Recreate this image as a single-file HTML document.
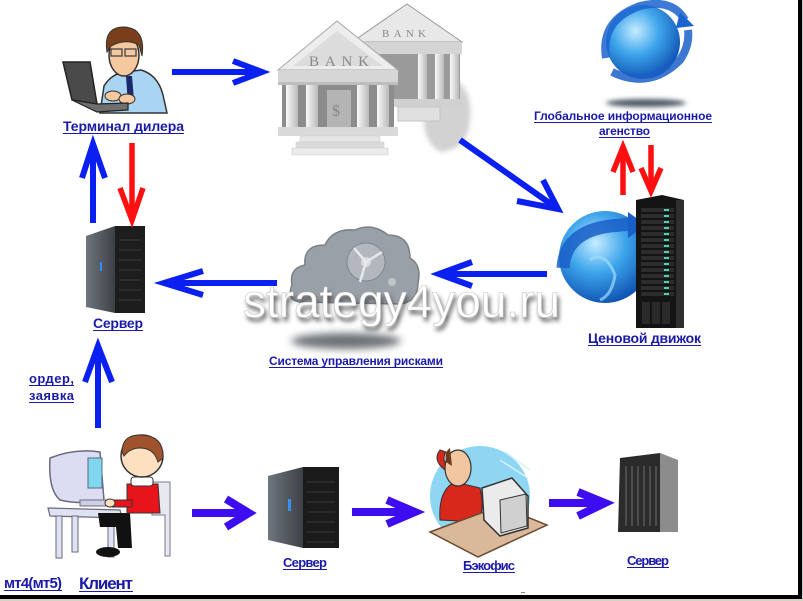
<!DOCTYPE html>
<html><head><meta charset="utf-8">
<style>
html,body{margin:0;padding:0;background:#fff;width:803px;height:601px;overflow:hidden}
svg{display:block}
.l{font-family:"Liberation Sans",Arial,sans-serif;font-weight:bold;fill:#1a1aa8}
</style></head><body>
<svg width="803" height="601" viewBox="0 0 803 601" xmlns="http://www.w3.org/2000/svg">
<defs>
<radialGradient id="gl" cx="0.4" cy="0.35" r="0.7">
<stop offset="0" stop-color="#c6ecff"/><stop offset="0.45" stop-color="#3fa6ec"/><stop offset="1" stop-color="#0a4cae"/>
</radialGradient>
<linearGradient id="col" x1="0" x2="1"><stop offset="0" stop-color="#fafafa"/><stop offset="1" stop-color="#b9b9b9"/></linearGradient>
<linearGradient id="side" x1="0" x2="1"><stop offset="0" stop-color="#70767e"/><stop offset="1" stop-color="#3c4046"/></linearGradient>
<filter id="bl" x="-20%" y="-50%" width="140%" height="200%"><feGaussianBlur stdDeviation="2.5"/></filter>
<filter id="bl2" x="-20%" y="-50%" width="140%" height="200%"><feGaussianBlur stdDeviation="4"/></filter>
</defs>
<rect width="803" height="601" fill="#fff"/>

<!-- ===== Dealer ===== -->
<path d="M100,113 L104,86 Q112,73 126,72 L141,70 Q158,75 163,95 L167,113 Z" fill="#a9d5f2" stroke="#333" stroke-width="1.5"/>
<polygon points="126,76 132,76 134,100 128,105" fill="#1b2a6b"/>
<ellipse cx="124" cy="55" rx="15" ry="21" fill="#f6c8a0" stroke="#333" stroke-width="1.5"/>
<path d="M107,52 Q103,27 124,27 Q146,28 142,56 L139,45 Q126,38 111,46 Z" fill="#7a3f1a" stroke="#333" stroke-width="1"/>
<rect x="111" y="49" width="11" height="7" fill="none" stroke="#444" stroke-width="1.3"/>
<rect x="125" y="49" width="11" height="7" fill="none" stroke="#444" stroke-width="1.3"/>
<ellipse cx="113" cy="96" rx="8" ry="5" fill="#f6c8a0" stroke="#333"/>
<ellipse cx="127" cy="99" rx="8" ry="5" fill="#f6c8a0" stroke="#333"/>
<polygon points="63,62 90,62 97,104 72,100" fill="#4a4a4a" stroke="#222" stroke-width="1.5"/>
<polygon points="72,100 97,104 128,103 128,110 97,112" fill="#6f6f6f" stroke="#222" stroke-width="1.2"/>

<!-- ===== Banks ===== -->
<path d="M435,70 Q475,80 470,120 Q468,150 440,152 Q420,140 425,110 Z" fill="#d2d2d2" filter="url(#bl)"/>
<rect x="355" y="54" width="105" height="46" fill="#9a9a9a"/>
<polygon points="352,42 407,4 462,42" fill="#e8e8e8" stroke="#9a9a9a"/>
<text x="382" y="37" font-family="Liberation Serif,serif" font-size="11" fill="#8a8a8a" textLength="44">BANK</text>
<rect x="350" y="42" width="112" height="12" fill="#d4d4d4"/>
<rect x="418" y="54" width="9" height="45" fill="url(#col)"/>
<rect x="435" y="54" width="9" height="45" fill="url(#col)"/>
<rect x="450" y="54" width="9" height="45" fill="url(#col)"/>
<rect x="350" y="99" width="112" height="8" fill="#d0d0d0"/>
<rect x="398" y="107" width="42" height="14" fill="#e0e0e0" stroke="#c4c4c4"/>

<rect x="282" y="84" width="112" height="43" fill="#8c8c8c"/>
<polygon points="278,70 337,21 398,70" fill="#ededed" stroke="#a8a8a8"/>
<polygon points="293,66 337,31 383,66" fill="#dcdcdc"/>
<text x="309" y="66" font-family="Liberation Serif,serif" font-size="15" fill="#888" textLength="60">BANK</text>
<rect x="278" y="70" width="120" height="14" fill="#d6d6d6"/>
<rect x="278" y="82" width="120" height="3" fill="#bdbdbd"/>
<rect x="286" y="85" width="12" height="42" fill="url(#col)"/>
<rect x="306" y="85" width="12" height="42" fill="url(#col)"/>
<rect x="357" y="85" width="12" height="42" fill="url(#col)"/>
<rect x="377" y="85" width="12" height="42" fill="url(#col)"/>
<rect x="327" y="90" width="24" height="37" fill="#b4b4b4"/>
<text x="332" y="116" font-family="Liberation Serif,serif" font-size="16" fill="#888">$</text>
<rect x="278" y="127" width="120" height="9" fill="#d9d9d9"/>
<rect x="300" y="136" width="80" height="6" fill="#e6e6e6" stroke="#c9c9c9" stroke-width="0.5"/>
<rect x="296" y="142" width="88" height="6" fill="#dadada" stroke="#c9c9c9" stroke-width="0.5"/>
<rect x="292" y="148" width="96" height="7" fill="#ebebeb" stroke="#c9c9c9" stroke-width="0.5"/>

<!-- ===== Top globe ===== -->
<ellipse cx="646" cy="103" rx="40" ry="4" fill="#4f5a66" filter="url(#bl)"/>
<circle cx="643" cy="42" r="37" fill="url(#gl)"/>
<path d="M606,58 Q600,20 640,6 Q672,-2 685,20" fill="none" stroke="#1b63cf" stroke-width="8" opacity="0.85"/>
<path d="M612,72 Q650,90 680,60 Q690,45 688,30" fill="none" stroke="#1a5fc8" stroke-width="8" opacity="0.85"/>
<polygon points="680,12 694,26 676,28" fill="#1b63cf"/>

<!-- ===== Price engine ===== -->
<circle cx="605" cy="257" r="46" fill="url(#gl)"/>
<path d="M563,268 Q565,232 610,226 L632,224" fill="none" stroke="#1a5fc8" stroke-width="13" opacity="0.85"/>
<polygon points="628,212 646,225 628,238" fill="#1a5fc8"/>
<path d="M590,260 Q605,250 615,275 Q612,295 600,300" fill="none" stroke="#9fdcff" stroke-width="3" opacity="0.7"/>
<polygon points="636,200 662,195 684,200 684,328 636,328" fill="#141414"/>
<rect x="676" y="200" width="8" height="128" fill="#2e2e2e"/>
<g fill="#2c2c2c">
<rect x="641" y="208" width="33" height="4"/><rect x="641" y="214" width="33" height="4"/><rect x="641" y="220" width="33" height="4"/><rect x="641" y="226" width="33" height="4"/><rect x="641" y="232" width="33" height="4"/><rect x="641" y="238" width="33" height="4"/><rect x="641" y="244" width="33" height="4"/><rect x="641" y="250" width="33" height="4"/><rect x="641" y="256" width="33" height="4"/><rect x="641" y="262" width="33" height="4"/><rect x="641" y="268" width="33" height="4"/><rect x="641" y="274" width="33" height="4"/><rect x="641" y="280" width="33" height="4"/><rect x="641" y="286" width="33" height="4"/><rect x="641" y="292" width="33" height="4"/>
</g>
<g fill="#4fd0b0">
<rect x="664" y="209" width="5" height="2"/><rect x="664" y="215" width="5" height="2"/><rect x="664" y="221" width="5" height="2"/><rect x="664" y="227" width="5" height="2"/><rect x="664" y="233" width="5" height="2"/><rect x="664" y="239" width="5" height="2"/><rect x="664" y="245" width="5" height="2"/><rect x="664" y="251" width="5" height="2"/><rect x="664" y="257" width="5" height="2"/><rect x="664" y="263" width="5" height="2"/><rect x="664" y="269" width="5" height="2"/><rect x="664" y="275" width="5" height="2"/><rect x="664" y="281" width="5" height="2"/><rect x="664" y="287" width="5" height="2"/><rect x="664" y="293" width="5" height="2"/>
</g>
<g fill="#2a2a2a"><rect x="642" y="302" width="8" height="22"/><rect x="652" y="302" width="8" height="22"/><rect x="662" y="302" width="8" height="22"/></g>

<!-- ===== Cloud ===== -->
<ellipse cx="346" cy="341" rx="55" ry="8" fill="#4a4f55" filter="url(#bl2)" opacity="0.8"/>
<path d="M300,302 Q286,300 292,285 Q289,268 305,265 Q303,245 325,245 Q333,228 355,230 Q372,222 388,235 Q410,235 410,258 Q422,265 418,283 Q418,302 400,304 Z" fill="#9aa0a7" stroke="#7a8088" stroke-width="1.5"/>
<circle cx="366" cy="262" r="19" fill="#b3b8be" stroke="#80868d"/>
<circle cx="366" cy="262" r="5" fill="#d8dbdf"/>
<path d="M366,262 L354,248 M366,262 L382,252 M366,262 L360,282" stroke="#e6e8ea" stroke-width="2.5"/>
<circle cx="392" cy="282" r="4" fill="#c0c4c9"/>

<!-- ===== Servers ===== -->
<polygon points="86,236 115,226 115,313 86,307" fill="url(#side)"/>
<rect x="115" y="226" width="30" height="87" fill="#1d1d1d"/>
<g stroke="#3a3a3a" stroke-width="1"><line x1="119" y1="240" x2="141" y2="240"/><line x1="119" y1="250" x2="141" y2="250"/><line x1="119" y1="260" x2="141" y2="260"/><line x1="119" y1="270" x2="141" y2="270"/><line x1="119" y1="280" x2="141" y2="280"/><line x1="119" y1="290" x2="141" y2="290"/><line x1="119" y1="300" x2="141" y2="300"/></g>
<rect x="100" y="262" width="2" height="9" fill="#2a8fff"/>

<polygon points="268,476 303,467 303,548 268,540" fill="url(#side)"/>
<rect x="303" y="467" width="36" height="81" fill="#1b1b1b"/>
<g stroke="#3a3a3a" stroke-width="1"><line x1="307" y1="482" x2="335" y2="482"/><line x1="307" y1="492" x2="335" y2="492"/><line x1="307" y1="502" x2="335" y2="502"/><line x1="307" y1="512" x2="335" y2="512"/><line x1="307" y1="522" x2="335" y2="522"/><line x1="307" y1="532" x2="335" y2="532"/><line x1="307" y1="542" x2="335" y2="542"/></g>
<rect x="288" y="499" width="3" height="12" fill="#3a8ff0"/>

<polygon points="620,458 660,453 660,532 618,532" fill="#2b2b2b"/>
<polygon points="660,453 678,460 678,532 660,532" fill="#8c8c8c"/>
<g stroke="#595959" stroke-width="1.5"><line x1="626" y1="466" x2="626" y2="526"/><line x1="632" y1="466" x2="632" y2="526"/><line x1="638" y1="466" x2="638" y2="526"/><line x1="644" y1="466" x2="644" y2="526"/><line x1="650" y1="466" x2="650" y2="526"/><line x1="656" y1="466" x2="656" y2="526"/></g>

<!-- ===== Client ===== -->
<path d="M150,482 L170,482 L170,556 L165,556 L165,515 L152,515 Z" fill="#e8e8f0" stroke="#7a7a8a"/>
<polygon points="48,508 120,510 122,518 50,516" fill="#dfe2f2" stroke="#6a6a80" stroke-width="1.2"/>
<g fill="#dfe2f2" stroke="#6a6a80" stroke-width="1"><rect x="56" y="516" width="6" height="42"/><rect x="72" y="516" width="6" height="36"/><rect x="108" y="517" width="6" height="40"/></g>
<path d="M50,458 Q75,448 100,452 L104,500 Q80,505 60,500 Q48,490 50,458 Z" fill="#dcdcf2" stroke="#6a6a80" stroke-width="1.5"/>
<rect x="88" y="458" width="14" height="30" fill="#7fd6ee" stroke="#5a6a80"/>
<rect x="80" y="500" width="28" height="6" fill="#cfd0e8" stroke="#6a6a80"/>
<path d="M98,513 L130,513 L132,548 L118,548 L116,527 L100,527 Z" fill="#111"/>
<ellipse cx="108" cy="552" rx="12" ry="5" fill="#111"/>
<path d="M127,484 L158,484 L160,513 L127,513 Z" fill="#e8141c" stroke="#333"/>
<rect x="112" y="500" width="20" height="7" fill="#e8141c" stroke="#333"/>
<ellipse cx="110" cy="503" rx="5" ry="4" fill="#fde0c0" stroke="#333"/>
<rect x="131" y="477" width="22" height="9" rx="3" fill="#fff" stroke="#333"/>
<circle cx="142" cy="456" r="21" fill="#fde0c0" stroke="#333" stroke-width="1.5"/>
<path d="M122,452 Q122,434 142,435 Q164,436 163,458 L158,462 Q154,448 140,448 Q130,448 124,456 Z" fill="#a0522d" stroke="#333"/>

<!-- ===== Backoffice ===== -->
<circle cx="480" cy="496" r="50" fill="#8fd6f2"/>
<path d="M500,460 L528,478 M505,452 L530,470" stroke="#d8f2fc" stroke-width="1.5"/>
<path d="M440,520 Q438,490 455,482 L480,488 Q485,510 478,522 Z" fill="#d8281c" stroke="#333"/>
<path d="M445,470 Q432,460 440,450 L446,452 Q440,462 452,470 Z" fill="#d8281c" stroke="#333"/>
<ellipse cx="458" cy="468" rx="13" ry="18" fill="#f2c6a0" stroke="#333" stroke-width="1.2"/>
<path d="M446,462 Q444,452 450,448 L452,466 Z" fill="#6b3a1f"/>
<polygon points="430,532 500,506 547,525 478,557" fill="#d9b99a" stroke="#6b4a30" stroke-width="1.5"/>
<polygon points="482,488 512,478 528,496 528,528 500,536 484,520" fill="#ebebeb" stroke="#333" stroke-width="1.5"/>
<polygon points="500,500 526,494 527,526 501,533" fill="#d0d0d0" stroke="#333"/>

<!-- ===== Arrows ===== -->
<g fill="none" stroke="#0a20f0" stroke-width="6" stroke-linejoin="miter">
<path d="M172,72 H262"/><path d="M233,61 L262,72 L233,83"/>
<path d="M460,140 L558,209"/><path d="M517,201 L558,209 L543,180"/>
<path d="M547,274 H439"/><path d="M472,262 L439,274 L472,286"/>
<path d="M277,283 H164"/><path d="M203,271 L164,283 L203,295"/>
<path d="M93,223 V144"/><path d="M82,178 L93,144 L105,178"/>
<path d="M98,428 V346"/><path d="M85,382 L98,346 L112,382"/>
</g>
<g fill="none" stroke="#ff1010" stroke-width="5.5">
<path d="M132,143 V220"/><path d="M120,188 L132,220 L143,188"/>
<path d="M623,195 V147"/><path d="M613,172 L623,147 L633,172"/>
<path d="M651,145 V191"/><path d="M641,168 L651,191 L661,168"/>
</g>
<g fill="none" stroke="#3d0cf0" stroke-width="8">
<path d="M192,513 H249"/><path d="M226,499 L249,513 L226,527"/>
<path d="M352,512 H415"/><path d="M387,500 L415,512 L387,524"/>
<path d="M549,503 H605"/><path d="M578,492 L605,503 L578,516"/>
</g>

<!-- ===== Watermark ===== -->
<text x="245" y="321" font-family="Liberation Sans,Arial,sans-serif" font-size="46" fill="#3a3a3a" textLength="317" filter="url(#bl)" opacity="0.85">strategy4you.ru</text>
<text x="243" y="317" font-family="Liberation Sans,Arial,sans-serif" font-size="46" fill="#ffffff" stroke="#c8c8c8" stroke-width="0.6" textLength="317">strategy4you.ru</text>

<!-- ===== Labels ===== -->
<text class="l" x="63" y="131" font-size="14" textLength="121">Терминал дилера</text>
<rect x="63" y="133" width="121" height="1" fill="#1a1aa8"/>
<text class="l" x="534" y="120" font-size="12" textLength="178">Глобальное информационное</text>
<rect x="534" y="122" width="178" height="1" fill="#1a1aa8"/>
<text class="l" x="599" y="135" font-size="12" textLength="51">агенство</text>
<rect x="599" y="137" width="51" height="1" fill="#1a1aa8"/>
<text class="l" x="588" y="343" font-size="14" textLength="113">Ценовой движок</text>
<rect x="588" y="345" width="113" height="1" fill="#1a1aa8"/>
<text class="l" x="269" y="365" font-size="12" textLength="174">Система управления рисками</text>
<rect x="269" y="367" width="174" height="1" fill="#1a1aa8"/>
<text class="l" x="93" y="328" font-size="14" textLength="50">Сервер</text>
<rect x="93" y="330" width="50" height="1" fill="#1a1aa8"/>
<text class="l" x="29" y="383" font-size="13" textLength="45">ордер,</text>
<rect x="29" y="385" width="45" height="1" fill="#1a1aa8"/>
<text class="l" x="29" y="400" font-size="13" textLength="45">заявка</text>
<rect x="29" y="402" width="45" height="1" fill="#1a1aa8"/>
<text class="l" x="4" y="588" font-size="15" textLength="58">мт4(мт5)</text>
<rect x="4" y="590" width="58" height="1" fill="#1a1aa8"/>
<text class="l" x="79" y="589" font-size="17" textLength="54">Клиент</text>
<rect x="79" y="591" width="54" height="1" fill="#1a1aa8"/>
<text class="l" x="283" y="567" font-size="13" textLength="44">Сервер</text>
<rect x="283" y="569" width="44" height="1" fill="#1a1aa8"/>
<text class="l" x="463" y="570" font-size="13" textLength="52">Бэкофис</text>
<rect x="463" y="572" width="52" height="1" fill="#1a1aa8"/>
<text class="l" x="627" y="565" font-size="13" textLength="42">Сервер</text>
<rect x="627" y="567" width="42" height="1" fill="#1a1aa8"/>
<rect x="521" y="592" width="4" height="1" fill="#888"/>

<!-- ===== Frame ===== -->
<rect x="798" y="0" width="4" height="599" fill="#000"/>
<rect x="802" y="0" width="1" height="601" fill="#c8c8c8"/>
<rect x="0" y="595" width="802" height="4" fill="#000"/>
<rect x="0" y="599" width="803" height="2" fill="#d8d2c0"/>
</svg>
</body></html>
